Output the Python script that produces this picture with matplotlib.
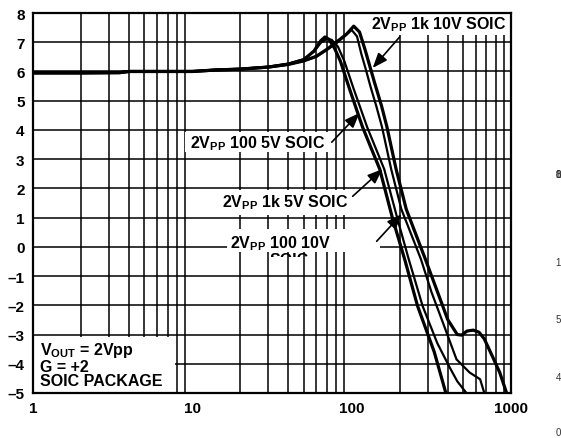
import matplotlib
matplotlib.use("Agg")
import matplotlib.pyplot as plt
from matplotlib.patches import Rectangle

plt.rcParams['font.family'] = ['Liberation Sans', 'DejaVu Sans']
plt.rcParams['font.weight'] = 'bold'
plt.rcParams['mathtext.fontset'] = 'custom'
plt.rcParams['mathtext.rm'] = 'Liberation Sans:bold'
plt.rcParams['mathtext.bf'] = 'Liberation Sans:bold'

# frequency (MHz) / gain (dB) for the four test conditions
freq_100_5v = [1, 2, 3.5, 4, 10, 14, 20, 30, 40, 50, 58, 64, 68, 72, 78, 85, 97, 117, 150, 181, 215, 259, 330, 390]
gain_100_5v = [5.95, 5.95, 5.96, 6.0, 6.0, 6.05, 6.08, 6.15, 6.25, 6.4, 6.7, 7.05, 7.18, 7.1, 6.8, 6.35, 5.4, 4.1, 2.66, 0.95, -0.42, -2.02, -3.6, -5.0]

freq_1k_5v = [1, 2, 3.5, 4, 10, 14, 20, 30, 40, 50, 58, 64, 70, 75, 82, 90, 103, 125, 160, 194, 228, 279, 345, 410, 460, 525]
gain_1k_5v = [5.96, 5.96, 5.97, 6.01, 6.01, 6.06, 6.09, 6.16, 6.27, 6.42, 6.68, 6.98, 7.12, 7.08, 6.85, 6.35, 5.4, 4.1, 2.66, 0.95, -0.42, -2.03, -3.3, -4.1, -4.6, -5.0]

freq_100_10v = [1, 2, 3.5, 4, 10, 14, 20, 30, 40, 50, 60, 70, 80, 90, 100, 108, 115, 123, 131, 143, 155, 177, 205, 272, 317, 373, 455, 550, 640, 680]
gain_100_10v = [5.96, 5.96, 5.97, 6.0, 6.0, 6.05, 6.08, 6.15, 6.24, 6.36, 6.5, 6.74, 6.96, 7.2, 7.42, 7.2, 6.6, 6.05, 5.5, 4.8, 4.1, 2.66, 1.29, -0.42, -1.55, -2.58, -3.85, -4.3, -4.53, -5.0]

freq_1k_10v = [1, 2, 3.5, 4, 10, 14, 20, 30, 40, 50, 60, 70, 80, 93, 103, 112, 121, 130, 139, 154, 166, 190, 220, 290, 360, 400, 430, 460, 490, 530, 580, 630, 680, 765, 850, 945]
gain_1k_10v = [5.95, 5.95, 5.96, 6.0, 6.0, 6.05, 6.08, 6.15, 6.24, 6.36, 6.52, 6.76, 7.0, 7.28, 7.55, 7.35, 6.77, 6.18, 5.63, 4.82, 4.13, 2.66, 1.29, -0.42, -1.8, -2.48, -2.75, -3.0, -3.02, -2.88, -2.85, -2.92, -3.15, -3.75, -4.3, -5.05]

yticks = list(range(-5, 9))
ytick_labels = [('\u2013%d' % -v) if v < 0 else str(v) for v in yticks]
xticks = [1, 10, 100, 1000]
xtick_labels = ['1', '10', '100', '1000']

fig = plt.figure(figsize=(5.61, 4.39), dpi=100)
ax = fig.add_axes([33/561, 45/439, 478/561, 380/439])
ax.set_xscale('log')
ax.set_xlim(1, 1000)
ax.set_ylim(-5, 8)

fs = 11.5

# second line of the 100 10V label, mostly hidden under a white strip
ax.text(30.5, -0.18, 'SOIC', fontsize=fs, va='top', zorder=0.5)
ax.add_patch(Rectangle((25, -1.0), 60, 0.82 - 0.17, fc='white', ec='none', zorder=0.8))

# grid: every integer dB, every 1..9 in each decade
for v in yticks:
    ax.axhline(v, color='black', lw=1.1, zorder=1)
for dec in [1, 10, 100]:
    for k in range(2, 10):
        ax.axvline(dec*k, color='black', lw=1.1, zorder=1)

ax.set_yticks(yticks)
ax.set_yticklabels(ytick_labels)
ax.set_xticks(xticks)
ax.set_xticklabels(xtick_labels)
ax.minorticks_off()
ax.tick_params(length=0, labelsize=11, pad=6)
ax.tick_params(axis='x', pad=6)
for s in ax.spines.values():
    s.set_linewidth(1.6)
    s.set_zorder(5)

# white label boxes covering the grid
boxes = [
    (120.8, 7.25, 973, 8.0),
    (8.98, 3.25, 72.8, 3.93),
    (13.8, 1.08, 106, 1.94),
    (16.5, -0.18, 150, 0.6),
    (1.0, -5.0, 7.77, -3.1),
]
for x0, y0, x1, y1 in boxes:
    ax.add_patch(Rectangle((x0, y0), x1 - x0, y1 - y0, fc='white', ec='none', zorder=2))

ax.plot(freq_100_5v, gain_100_5v, color='black', lw=2.3, zorder=3)
ax.plot(freq_1k_5v, gain_1k_5v, color='black', lw=1.6, zorder=3)
ax.plot(freq_100_10v, gain_100_10v, color='black', lw=1.6, zorder=3)
ax.plot(freq_1k_10v, gain_1k_10v, color='black', lw=2.3, zorder=3)

ax.text(133, 7.62, '2V$_{\\rm PP}$ 1k 10V SOIC', fontsize=fs, va='center', zorder=4)
ax.text(9.6, 3.58, '2V$_{\\rm PP}$ 100 5V SOIC', fontsize=fs, va='center', zorder=4)
ax.text(15.3, 1.55, '2V$_{\\rm PP}$ 1k 5V SOIC', fontsize=fs, va='center', zorder=4)
ax.text(17.2, 0.16, '2V$_{\\rm PP}$ 100 10V', fontsize=fs, va='center', zorder=4)

ax.text(1.11, -3.2, 'V$_{\\rm OUT}$ = 2Vpp\nG = +2\nSOIC PACKAGE', fontsize=fs,
        va='top', linespacing=0.95, zorder=4)

arrows = [
    ((200, 7.18), (135.5, 6.12)),
    ((75, 3.58), (112, 4.58)),
    ((101.5, 1.73), (156, 2.66)),
    ((143.5, 0.19), (206, 1.12)),
]
for tail, head in arrows:
    ax.annotate('', xy=head, xytext=tail, zorder=4,
                arrowprops=dict(arrowstyle='-|>,head_length=0.9,head_width=0.35',
                                color='black', lw=1.2, shrinkA=0, shrinkB=0))

# stray marks at the right margin
for y, s in [(175, '1'), (175, '0'), (175, '8'), (263, '1'), (320, '5'), (378, '4'), (433, '0')]:
    fig.text(558/561, 1 - y/439, s, fontsize=7, fontweight='normal', color='#333333',
             ha='center', va='center')

fig.savefig('out.png', dpi=100)
